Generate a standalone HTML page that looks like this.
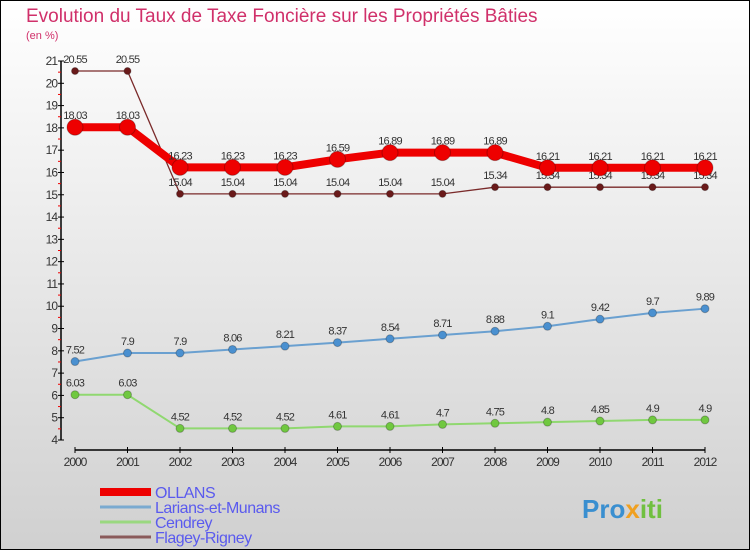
<!DOCTYPE html>
<html><head><meta charset="utf-8"><style>
body{margin:0}
#c{width:750px;height:550px;position:relative;font-family:"Liberation Sans",sans-serif;overflow:hidden}
</style></head><body>
<div id="c">
<svg id="s" width="750" height="550">
<defs><linearGradient id="bg" x1="0" y1="0" x2="0" y2="1"><stop offset="0" stop-color="#ffffff"/><stop offset="1" stop-color="#d0d0d0"/></linearGradient></defs>
<rect x="0.5" y="0.5" width="749" height="549" fill="url(#bg)" stroke="#000"/>
<text x="26" y="22" font-size="19" fill="#d0306a">Evolution du Taux de Taxe Foncière sur les Propriétés Bâties</text>
<text x="26" y="39" font-size="11" fill="#d0306a">(en %)</text>
<g id="axes"></g><g id="series"></g><g id="legend"></g>
<text x="582" y="518" font-size="26" font-weight="bold" fill="#3a8fd0">Pro<tspan fill="#f0a020">x</tspan><tspan fill="#70c040">iti</tspan></text>
</svg></div>
<script>
const years=[2000,2001,2002,2003,2004,2005,2006,2007,2008,2009,2010,2011,2012];
const ollans=[18.03,18.03,16.23,16.23,16.23,16.59,16.89,16.89,16.89,16.21,16.21,16.21,16.21];
const larians=[7.52,7.9,7.9,8.06,8.21,8.37,8.54,8.71,8.88,9.1,9.42,9.7,9.89];
const cendrey=[6.03,6.03,4.52,4.52,4.52,4.61,4.61,4.7,4.75,4.8,4.85,4.9,4.9];
const flagey=[20.55,20.55,15.04,15.04,15.04,15.04,15.04,15.04,15.34,15.34,15.34,15.34,15.34];
const yTicks=[4,5,6,7,8,9,10,11,12,13,14,15,16,17,18,19,20,21];
const NS="http://www.w3.org/2000/svg";
const X=i=>75+i*52.5, Y=v=>440-(v-4)*(379/17);
function mk(t,a,p){const e=document.createElementNS(NS,t);for(const k in a)e.setAttribute(k,a[k]);p.appendChild(e);return e;}
const ax=document.getElementById('axes');
let l=mk('line',{x1:61,y1:61,x2:61,y2:440,stroke:'#000','stroke-width':1.5},ax);


l=mk('line',{x1:75,y1:450,x2:705,y2:450,stroke:'#000','stroke-width':1.5},ax);


yTicks.forEach(v=>{
 mk('line',{x1:58,y1:Y(v),x2:64,y2:Y(v),stroke:'#000'},ax);
 if(v<21)mk('line',{x1:58,y1:Y(v+0.5),x2:61,y2:Y(v+0.5),stroke:'#e00'},ax);
 const t=mk('text',{x:57,y:Y(v)+4,'font-size':12,'text-anchor':'end',fill:'#333','letter-spacing':'-1'},ax);t.textContent=v;
 
 
});
years.forEach((y,i)=>{
 mk('line',{x1:X(i),y1:447,x2:X(i),y2:453,stroke:'#000'},ax);
 const t=mk('text',{x:X(i),y:466,'font-size':12,'text-anchor':'middle',fill:'#333','letter-spacing':'-1'},ax);t.textContent=y;
 
 
});
const sg=document.getElementById('series');
function series(d,col,w,r,name,fill){
 const g=mk('g',{},sg);
 
 
 mk('polyline',{points:d.map((v,i)=>X(i)+','+Y(v)).join(' '),fill:'none',stroke:col,'stroke-width':w},g);
 d.forEach((v,i)=>{
  const c=mk('circle',{cx:X(i),cy:Y(v),r:r,fill:fill,stroke:'rgba(0,0,0,0.25)','stroke-width':1},g);
  
  
  const t=mk('text',{x:X(i),y:Y(v)-8,'font-size':11,'text-anchor':'middle',fill:'#333','letter-spacing':'-0.8'},g);t.textContent=v;
  
  
 });
}
series(cendrey,'#90d870',2,4,'cendrey','#70c840');
series(larians,'#6aa0d0',2,4,'larians','#4a90d0');
series(flagey,'#7a2a2a',1.3,3.5,'flagey','#6a1a1a');
series(ollans,'#ee0000',8,8,'ollans','#ee0000');
const lg=document.getElementById('legend');
const names=['OLLANS','Larians-et-Munans','Cendrey','Flagey-Rigney'];
const cols=['#ee0000','#7aaad0','#9ad880','#8a5a5a'],ws=[8,3,3,3];
names.forEach((n,i)=>{
 const y=492+i*15;
 mk('line',{x1:100,y1:y,x2:151,y2:y,stroke:cols[i],'stroke-width':ws[i]},lg);
 const t=mk('text',{x:155,y:y+6,'font-size':16,fill:'#5a5aee','letter-spacing':'-0.5'},lg);t.textContent=n;
 
 
});
</script></body></html>
